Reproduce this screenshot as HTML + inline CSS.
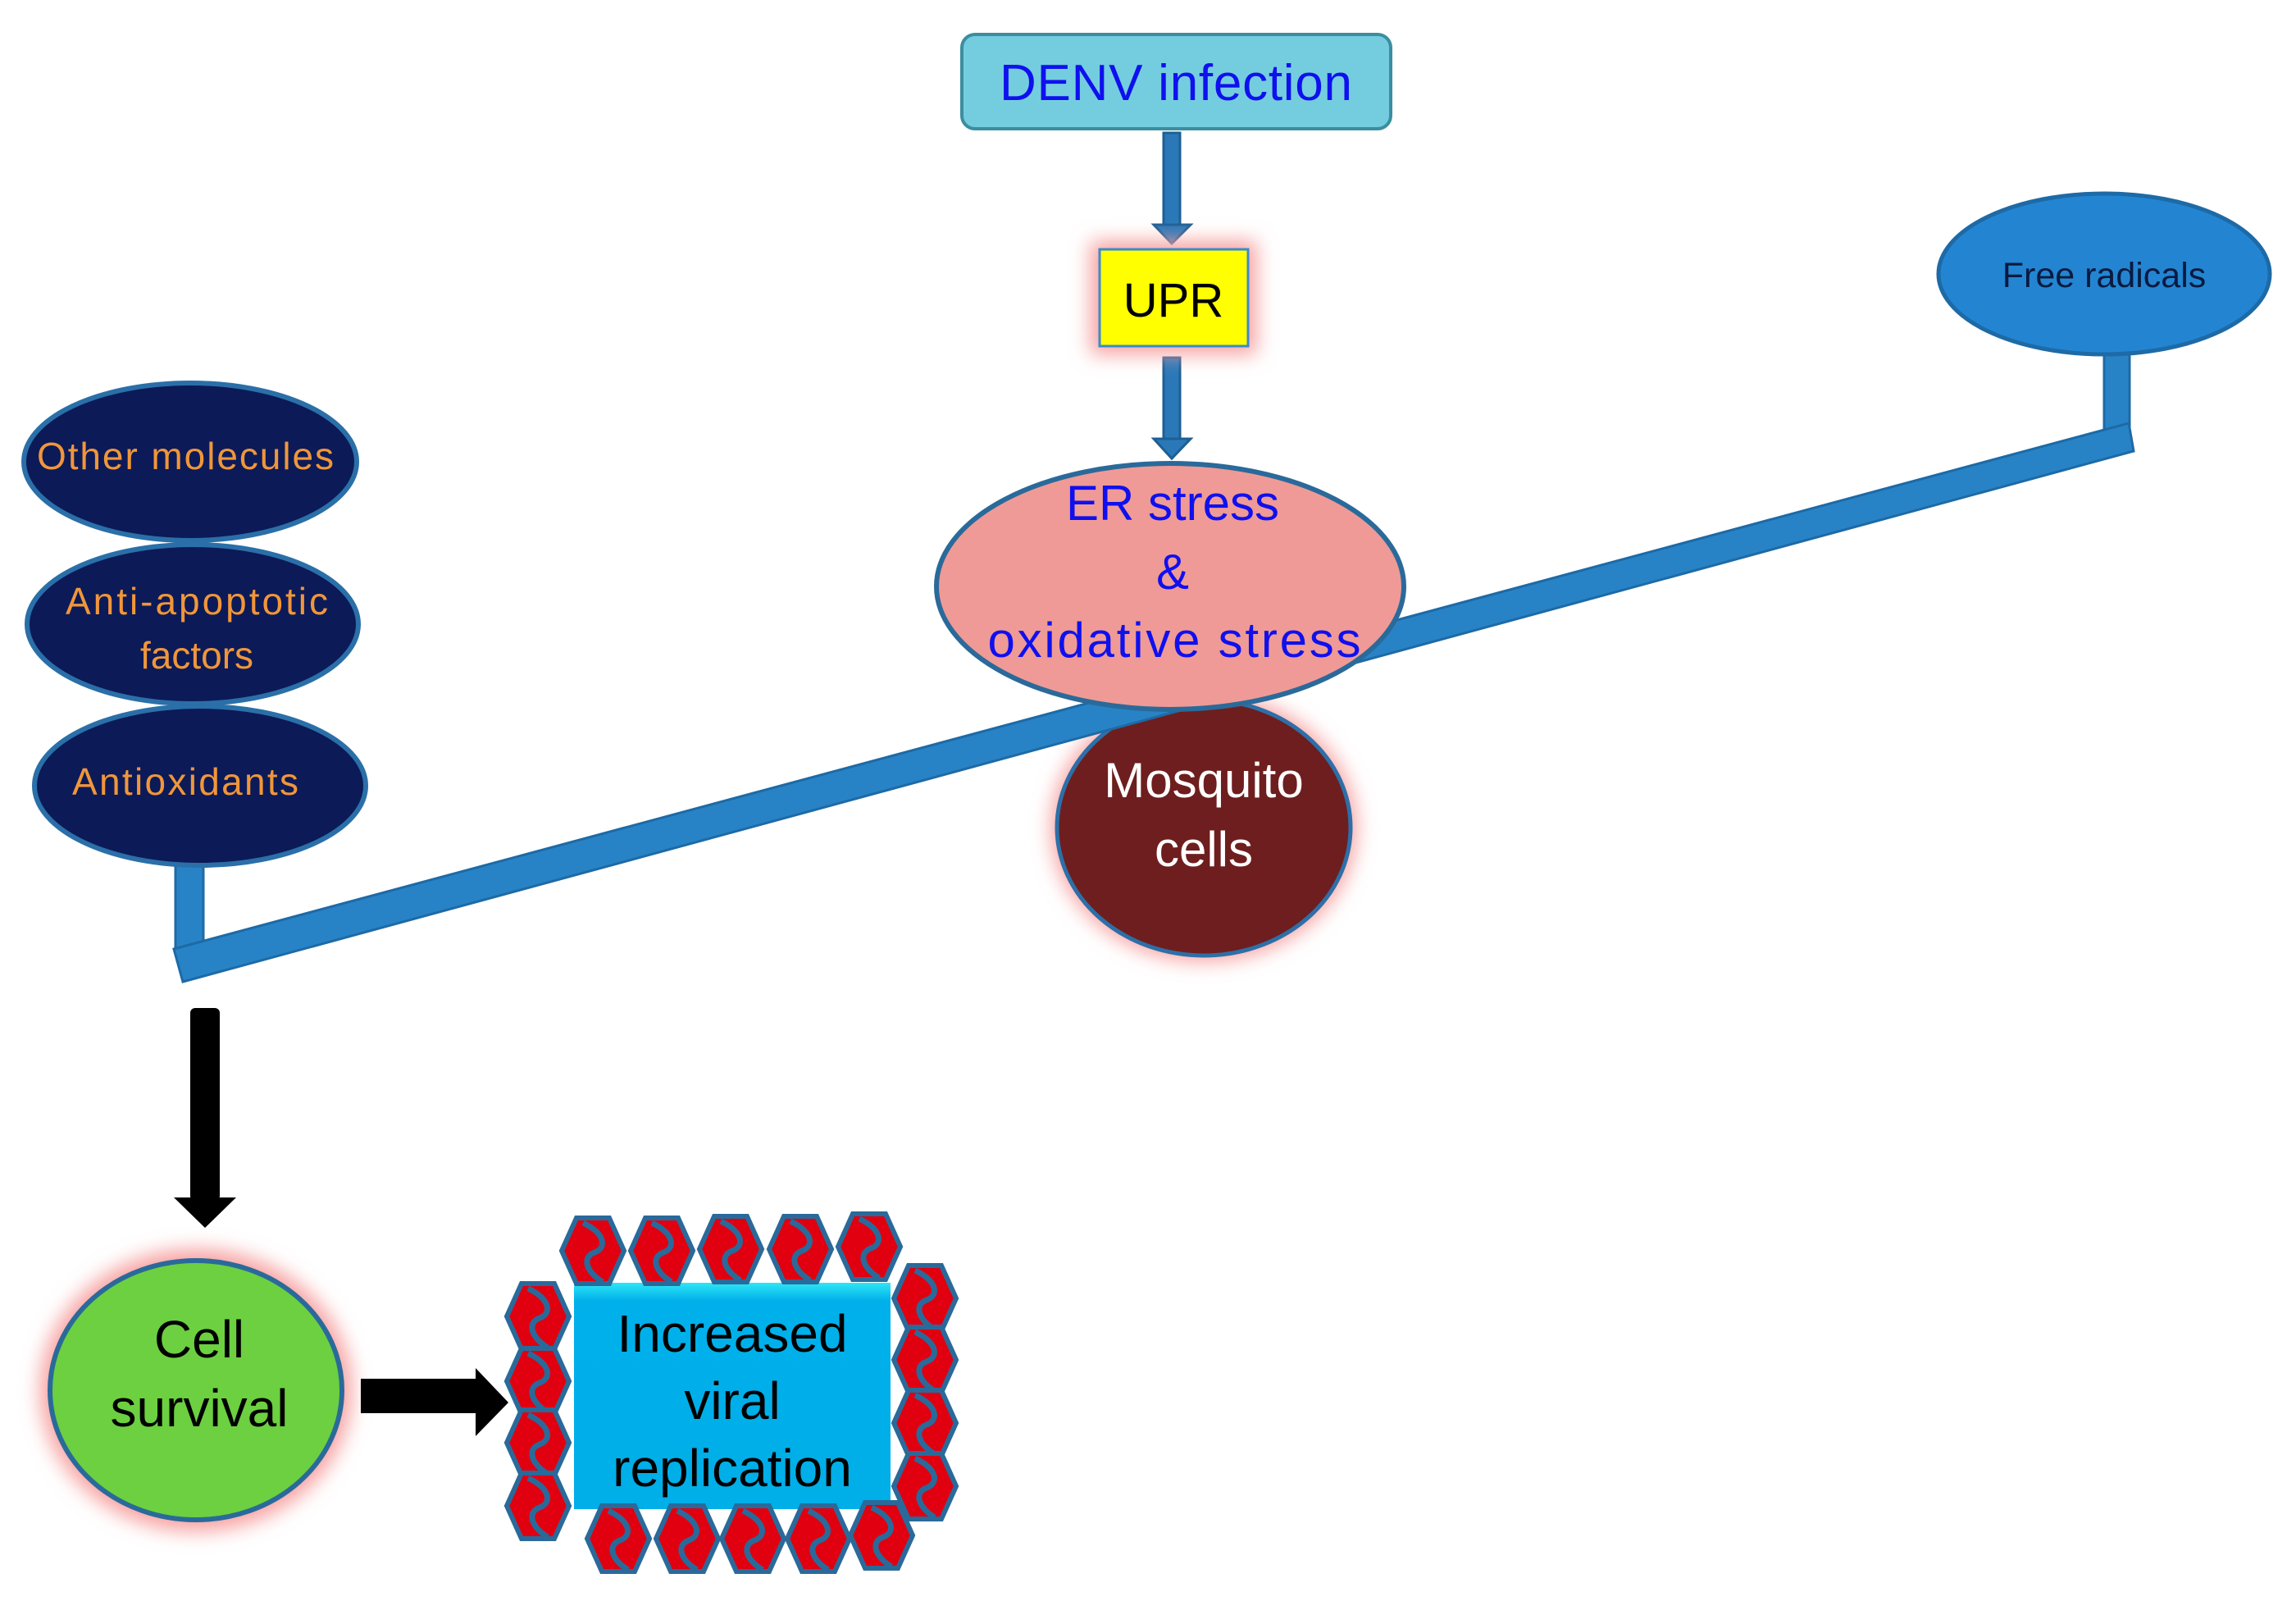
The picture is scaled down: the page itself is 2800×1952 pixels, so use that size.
<!DOCTYPE html>
<html><head><meta charset="utf-8"><style>
html,body{margin:0;padding:0;background:#fff}
svg{display:block}
text{font-family:"Liberation Sans",sans-serif}
</style></head><body>
<svg width="2800" height="1952" viewBox="0 0 2800 1952" xmlns="http://www.w3.org/2000/svg">
<defs>
<filter id="glow" x="-30%" y="-30%" width="160%" height="160%"><feGaussianBlur stdDeviation="12"/></filter>
<linearGradient id="boxg" x1="0" y1="0" x2="0" y2="1"><stop offset="0" stop-color="#2ee6f5"/><stop offset="0.08" stop-color="#00b0ea"/><stop offset="1" stop-color="#00aee8"/></linearGradient>
<g id="hex">
<polygon points="-20,-40 20,-40 38,0 20,40 -20,40 -38,0" fill="#e00010" stroke="#2a6a9a" stroke-width="6"/>
<path d="M-12,-34 C14,-22 18,-4 2,2 C-14,8 -8,26 12,38" fill="none" stroke="#2a6a9a" stroke-width="7"/>
</g>
</defs>

<rect x="1173" y="42" width="523" height="115" rx="16" fill="#73cddf" stroke="#3b8ea0" stroke-width="4"/>
<text x="1434" y="122" font-size="62" fill="#1010ee" text-anchor="middle" textLength="430">DENV infection</text>

<rect x="1419" y="162" width="20" height="116" fill="#2a78b8" stroke="#1d5f94" stroke-width="3"/>
<polygon points="1407,274 1452,274 1429,297" fill="#2a78b8" stroke="#1d5f94" stroke-width="3"/>
<rect x="1419" y="436" width="20" height="102" fill="#2a78b8" stroke="#1d5f94" stroke-width="3"/>
<polygon points="1407,535 1452,535 1429,559" fill="#2a78b8" stroke="#1d5f94" stroke-width="3"/>

<rect x="1330" y="294" width="202" height="138" fill="#f7a0a0" filter="url(#glow)"/>
<rect x="1341" y="304" width="181" height="118" fill="#ffff00" stroke="#3a8ad0" stroke-width="3"/>
<text x="1431" y="386" font-size="58" fill="#000" text-anchor="middle">UPR</text>

<rect x="2566" y="428" width="31" height="97" fill="#2883c6" stroke="#1d6aa6" stroke-width="3"/>
<ellipse cx="2566" cy="334" rx="202" ry="98" fill="#2385d2" stroke="#1d6aa6" stroke-width="5"/>
<text x="2566" y="350" font-size="43" fill="#0a1a40" text-anchor="middle">Free radicals</text>

<rect x="214" y="1053" width="34" height="104" fill="#2883c6" stroke="#1d6aa6" stroke-width="3"/>

<ellipse cx="1468" cy="1009" rx="186" ry="163" fill="#f7a0a0" filter="url(#glow)"/>
<ellipse cx="1468" cy="1009" rx="179" ry="156" fill="#6e1e1e" stroke="#2d6fa8" stroke-width="5"/>
<text x="1468" y="972" font-size="60" fill="#fff" text-anchor="middle">Mosquito</text>
<text x="1468" y="1056" font-size="60" fill="#fff" text-anchor="middle">cells</text>

<polygon points="212,1157 2596,516 2602,550 223,1197" fill="#2883c6" stroke="#1d6aa6" stroke-width="3"/>

<ellipse cx="1427" cy="715" rx="285" ry="150" fill="#ef9a96" stroke="#2a6a9a" stroke-width="6"/>
<text x="1430" y="634" font-size="60" fill="#1010ee" text-anchor="middle">ER stress</text>
<text x="1430" y="718" font-size="60" fill="#1010ee" text-anchor="middle">&amp;</text>
<text x="1432" y="801" font-size="60" fill="#1010ee" text-anchor="middle" textLength="455">oxidative  stress</text>

<ellipse cx="232" cy="563" rx="203" ry="96" fill="#0c1a58" stroke="#2a6fa8" stroke-width="6"/>
<text x="226" y="572" font-size="46" fill="#f0963a" text-anchor="middle" textLength="362">Other molecules</text>
<ellipse cx="235" cy="761" rx="202" ry="97" fill="#0c1a58" stroke="#2a6fa8" stroke-width="6"/>
<text x="240" y="749" font-size="46" fill="#f0963a" text-anchor="middle" textLength="320">Anti-apoptotic</text>
<text x="240" y="815" font-size="46" fill="#f0963a" text-anchor="middle">factors</text>
<ellipse cx="244" cy="958" rx="202" ry="97" fill="#0c1a58" stroke="#2a6fa8" stroke-width="6"/>
<text x="226" y="969" font-size="46" fill="#f0963a" text-anchor="middle" textLength="276">Antioxidants</text>

<rect x="232" y="1229" width="36" height="235" rx="6" fill="#000"/>
<polygon points="212,1460 288,1460 250,1497" fill="#000"/>

<ellipse cx="239" cy="1695" rx="190" ry="172" fill="#f7a0a0" filter="url(#glow)"/>
<ellipse cx="239" cy="1695" rx="178" ry="158" fill="#6cd040" stroke="#2a6a9a" stroke-width="6"/>
<text x="243" y="1655" font-size="64" fill="#000" text-anchor="middle">Cell</text>
<text x="243" y="1739" font-size="64" fill="#000" text-anchor="middle">survival</text>

<rect x="440" y="1681" width="145" height="42" fill="#000"/>
<polygon points="580,1668 620,1710 580,1751" fill="#000"/>

<rect x="700" y="1564" width="386" height="276" fill="url(#boxg)"/>
<text x="893" y="1648" font-size="64" fill="#000" text-anchor="middle">Increased</text>
<text x="893" y="1730" font-size="64" fill="#000" text-anchor="middle">viral</text>
<text x="893" y="1812" font-size="64" fill="#000" text-anchor="middle">replication</text>

<use href="#hex" x="723" y="1525"/><use href="#hex" x="807" y="1525"/><use href="#hex" x="891" y="1523"/><use href="#hex" x="976" y="1523"/><use href="#hex" x="1060" y="1520"/>
<use href="#hex" x="656" y="1605"/><use href="#hex" x="656" y="1684"/><use href="#hex" x="656" y="1759"/><use href="#hex" x="656" y="1836"/>
<use href="#hex" x="1128" y="1583"/><use href="#hex" x="1128" y="1658"/><use href="#hex" x="1128" y="1735"/><use href="#hex" x="1128" y="1812"/>
<use href="#hex" x="754" y="1876"/><use href="#hex" x="838" y="1876"/><use href="#hex" x="918" y="1876"/><use href="#hex" x="998" y="1876"/><use href="#hex" x="1075" y="1872"/>
</svg>
</body></html>
